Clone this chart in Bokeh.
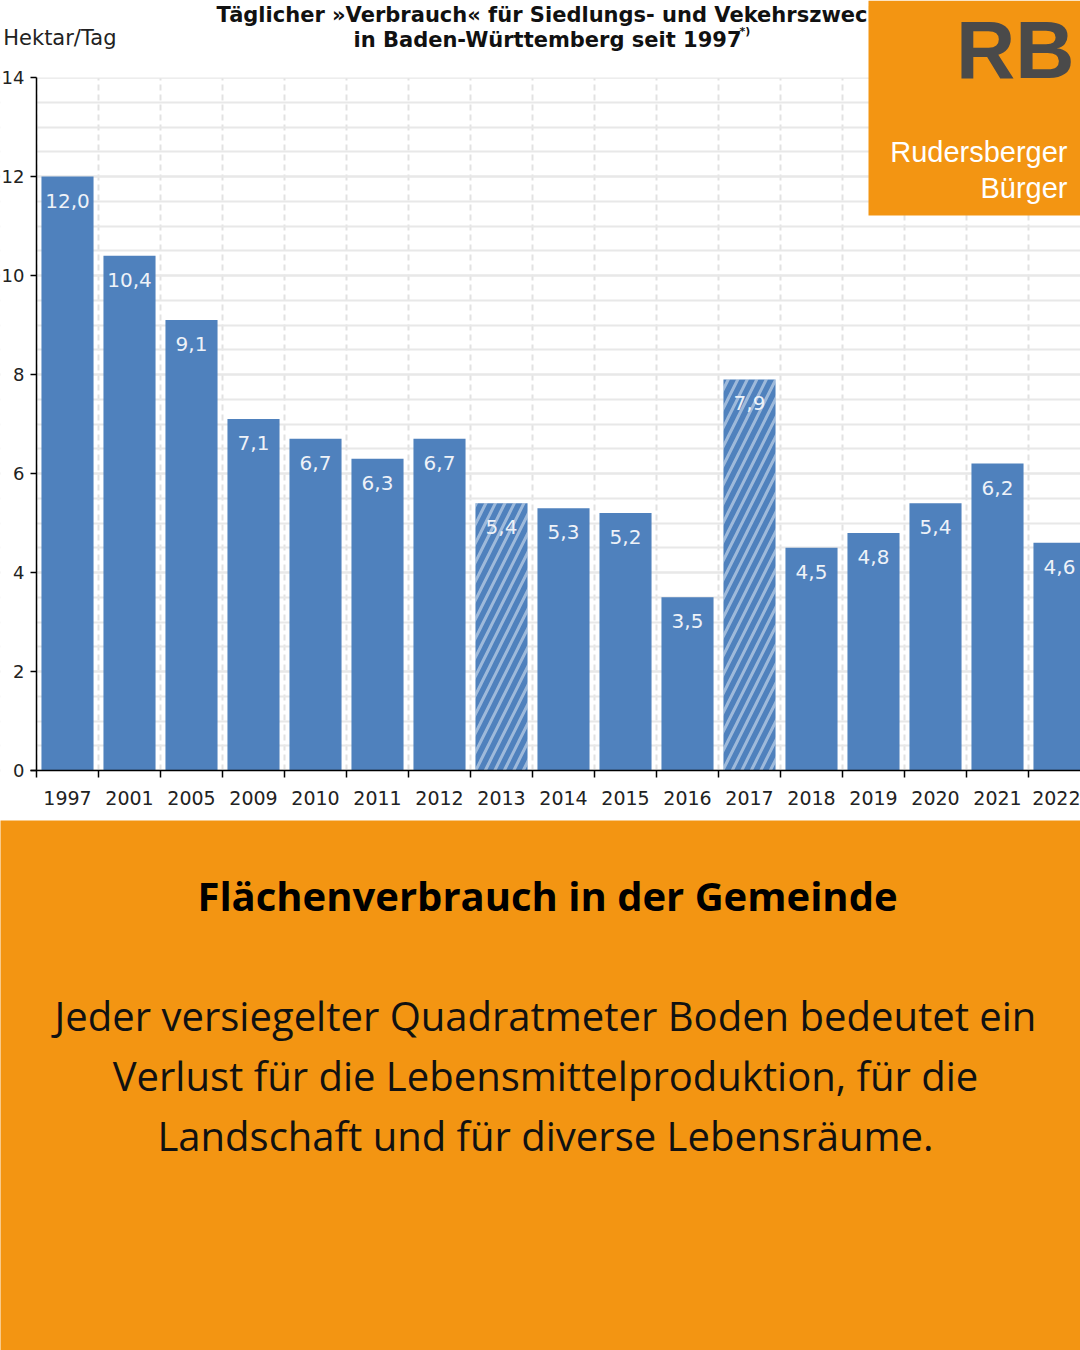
from bokeh.plotting import figure
from bokeh.models import (FixedTicker, Label, BoxAnnotation, ColumnDataSource, Range1d)
from bokeh.layouts import column
from bokeh.core.properties import value
from bokeh.embed import file_html
from bokeh.resources import INLINE

# ---------------- data ----------------
years = ["1997", "2001", "2005", "2009", "2010", "2011", "2012", "2013", "2014",
         "2015", "2016", "2017", "2018", "2019", "2020", "2021", "2022"]
hectares_per_day = [12.0, 10.4, 9.1, 7.1, 6.7, 6.3, 6.7, 5.4, 5.3,
                    5.2, 3.5, 7.9, 4.5, 4.8, 5.4, 6.2, 4.6]
hatched_years = ["2013", "2017"]
y_ticks = [0, 2, 4, 6, 8, 10, 12, 14]
y_max = 14

title_line1 = "Täglicher »Verbrauch« für Siedlungs- und Vekehrszwecke"
title_line2 = "in Baden-Württemberg seit 1997"
y_unit = "Hektar/Tag"
heading = "Flächenverbrauch in der Gemeinde"
body_lines = ["Jeder versiegelter Quadratmeter Boden bedeutet ein",
              "Verlust für die Lebensmittelproduktion, für die",
              "Landschaft und für diverse Lebensräume."]

# ---------------- styles / layout ----------------
BLUE = "#4F81BD"
ORANGE = "#F39512"
CH = 820          # chart canvas height
AXIS_BOTTOM = 770  # pixel row of value 0
AXIS_TOP = 77      # pixel row of value y_max
AXIS_X = 36        # pixel column of the value axis
SLOT = 62.0        # pixels per category

px_per_unit = (AXIS_BOTTOM - AXIS_TOP) / y_max

idx = list(range(len(years)))
src = ColumnDataSource(dict(
    x=idx,
    top=hectares_per_day,
    label=[f"{v:.1f}".replace(".", ",") for v in hectares_per_day],
    hatch=["right_diagonal_line" if y in hatched_years else " " for y in years],
))

p = figure(width=1080, height=CH,
           x_range=Range1d(-0.5 - AXIS_X / SLOT, -0.5 + (1080 - AXIS_X) / SLOT),
           y_range=Range1d(-(CH - AXIS_BOTTOM) / px_per_unit, y_max + AXIS_TOP / px_per_unit),
           output_backend="svg", toolbar_location=None, min_border=0,
           min_border_left=0, min_border_right=0, min_border_top=0, min_border_bottom=0)
p.outline_line_color = None
p.background_fill_color = "white"
p.border_fill_color = "white"

# grids
p.ygrid.grid_line_color = "#E8E8E8"
p.ygrid.grid_line_width = 2
p.ygrid.minor_grid_line_color = "#E8E8E8"
p.ygrid.minor_grid_line_width = 2
p.xgrid.grid_line_color = None
p.xgrid.minor_grid_line_color = "#E2E2E2"
p.xgrid.minor_grid_line_width = 2
p.xgrid.minor_grid_line_dash = "6 4"

# white masks outside the plotting area (left of value axis, above y_max, below 0)
p.add_layout(BoxAnnotation(right=-0.5, fill_color="white", fill_alpha=1.0,
                           line_color=None, level="underlay"))
p.add_layout(BoxAnnotation(bottom=y_max, fill_color="white", fill_alpha=1.0,
                           line_color=None, level="underlay"))
p.add_layout(BoxAnnotation(top=0, fill_color="white", fill_alpha=1.0,
                           line_color=None, level="underlay"))

p.vbar(x="x", top="top", width=0.84, source=src, fill_color=BLUE, line_color=None,
       hatch_pattern="hatch", hatch_color="white", hatch_alpha=0.45,
       hatch_weight=3, hatch_scale=19)

p.text(x="x", y="top", text="label", source=src, text_align="center",
       text_baseline="middle", y_offset=24, text_color="#EEF2F8",
       text_font=value("DejaVu Sans"), text_font_size="20px")

# x axis (at value 0)
p.xaxis.fixed_location = 0
p.xaxis.ticker = FixedTicker(ticks=idx, minor_ticks=[i - 0.5 for i in range(len(years) + 1)])
p.xaxis.major_label_overrides = {i: y for i, y in enumerate(years)}
p.xaxis.bounds = (-0.6, len(years) - 0.5)
p.xaxis.major_tick_out = 0
p.xaxis.major_tick_in = 0
p.xaxis.minor_tick_out = 7
p.xaxis.minor_tick_in = 0
p.xaxis.minor_tick_line_color = "black"
p.xaxis.minor_tick_line_width = 1.5
p.xaxis.axis_line_color = "black"
p.xaxis.axis_line_width = 1.5
p.xaxis.major_label_standoff = 13
p.xaxis.major_label_text_font = "DejaVu Sans"
p.xaxis.major_label_text_font_size = "19px"
p.xaxis.major_label_text_color = "#222222"

# y axis (at the left edge of the first category slot)
p.yaxis.fixed_location = -0.5
p.yaxis.bounds = (0, y_max)
p.yaxis.ticker = FixedTicker(ticks=y_ticks, minor_ticks=[i * 0.5 for i in range(2 * y_max + 1)])
p.yaxis.major_tick_out = 6
p.yaxis.major_tick_in = 0
p.yaxis.minor_tick_out = 0
p.yaxis.minor_tick_in = 0
p.yaxis.major_tick_line_color = "black"
p.yaxis.major_tick_line_width = 1.5
p.yaxis.axis_line_color = "black"
p.yaxis.axis_line_width = 1.5
p.yaxis.major_label_standoff = 6
p.yaxis.major_label_text_font = "DejaVu Sans"
p.yaxis.major_label_text_font_size = "18px"
p.yaxis.major_label_text_color = "#222222"

# titles (canvas units: y measured from the top)
p.add_layout(Label(x=116, y=37, x_units="canvas", y_units="canvas", text=y_unit,
                   text_align="right", text_baseline="alphabetic",
                   text_font="DejaVu Sans", text_font_size="21px", text_color="#222222"))
p.add_layout(Label(x=216, y=14, x_units="canvas", y_units="canvas", text=title_line1,
                   text_align="left", text_baseline="alphabetic", text_font_style="bold",
                   text_font="DejaVu Sans", text_font_size="21px", text_color="#111111"))
p.add_layout(Label(x=353, y=39, x_units="canvas", y_units="canvas", text=title_line2,
                   text_align="left", text_baseline="alphabetic", text_font_style="bold",
                   text_font="DejaVu Sans", text_font_size="21px", text_color="#111111"))
p.add_layout(Label(x=739, y=31, x_units="canvas", y_units="canvas", text="*)",
                   text_align="left", text_baseline="alphabetic", text_font_style="bold",
                   text_font="DejaVu Sans", text_font_size="11px", text_color="#111111"))

# RB logo box
p.add_layout(BoxAnnotation(left=868, right=1080, top=0, bottom=215,
                           left_units="canvas", right_units="canvas",
                           top_units="canvas", bottom_units="canvas",
                           fill_color=ORANGE, fill_alpha=1.0, line_color=None, level="overlay"))
p.add_layout(Label(x=1074, y=49, x_units="canvas", y_units="canvas", text="RB",
                   text_align="right", text_baseline="middle", text_font_style="bold",
                   text_font="Liberation Sans", text_font_size="82px", text_color="#4A4A4A",
                   level="overlay"))
p.add_layout(Label(x=1067, y=151, x_units="canvas", y_units="canvas", text="Rudersberger",
                   text_align="right", text_baseline="alphabetic",
                   text_font="Liberation Sans", text_font_size="29px", text_color="white",
                   level="overlay"))
p.add_layout(Label(x=1067, y=187, x_units="canvas", y_units="canvas", text="Bürger",
                   text_align="right", text_baseline="alphabetic",
                   text_font="Liberation Sans", text_font_size="29px", text_color="white",
                   level="overlay"))

# ---------------- bottom panel ----------------
BH = 530
q = figure(width=1080, height=BH, x_range=Range1d(0, 1080), y_range=Range1d(0, BH),
           output_backend="svg", toolbar_location=None, min_border=0,
           x_axis_location=None, y_axis_location=None,
           background_fill_color=ORANGE, border_fill_color=ORANGE)
q.outline_line_color = None
q.grid.visible = False

q.add_layout(Label(x=547, y=BH - 75, text=heading, text_align="center", text_baseline="middle",
                   text_font="Open Sans", text_font_style="bold", text_font_size="40px",
                   text_color="#000000"))
for k, line in enumerate(body_lines):
    q.add_layout(Label(x=545, y=BH - 195 - 60 * k, text=line, text_align="center",
                       text_baseline="middle", text_font="Open Sans", text_font_size="40px",
                       text_color="#111111"))

layout = column(p, q, spacing=0)
open("out.html", "w").write(file_html(layout, INLINE))
